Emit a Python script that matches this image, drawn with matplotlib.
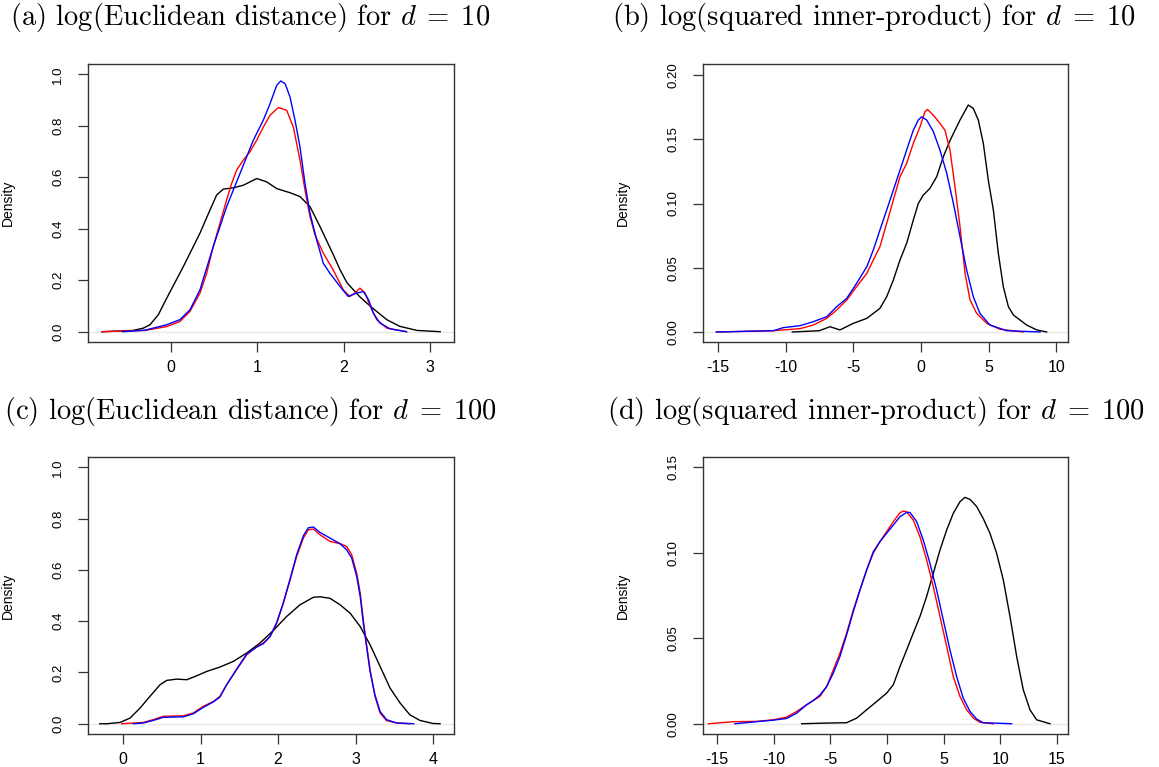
import matplotlib
matplotlib.use("Agg")
import matplotlib.pyplot as plt

# ---- data (density estimates) ----
# (a) log(Euclidean distance), d = 10
a_black_x = [-0.80, -0.437, -0.32, -0.243, -0.147, -0.05, 0.143, 0.336, 0.452, 0.529, 0.606,
             0.722, 0.838, 0.993, 1.109, 1.225, 1.379, 1.495, 1.611, 1.726, 1.88, 1.96, 2.04,
             2.19, 2.27, 2.35, 2.50, 2.65, 2.85, 3.12]
a_black_y = [0.0, 0.005, 0.014, 0.027, 0.066, 0.13, 0.253, 0.383, 0.473, 0.531, 0.554,
             0.559, 0.569, 0.595, 0.582, 0.556, 0.540, 0.525, 0.486, 0.409, 0.30, 0.24, 0.19,
             0.135, 0.111, 0.088, 0.047, 0.021, 0.005, 0.0]
a_red_x = [-0.80, -0.30, -0.05, 0.104, 0.22, 0.336, 0.413, 0.49, 0.645, 0.703, 0.761, 0.838,
           0.915, 0.993, 1.07, 1.148, 1.245, 1.341, 1.418, 1.495, 1.553, 1.611, 1.669, 1.765,
           1.88, 1.996, 2.073, 2.13, 2.19, 2.25, 2.31, 2.384, 2.50, 2.73]
a_red_y = [0.0, 0.005, 0.02, 0.040, 0.079, 0.150, 0.227, 0.331, 0.512, 0.576, 0.628, 0.667,
           0.699, 0.744, 0.795, 0.841, 0.871, 0.860, 0.795, 0.667, 0.550, 0.447, 0.376, 0.305,
           0.240, 0.163, 0.137, 0.150, 0.169, 0.150, 0.098, 0.047, 0.014, 0.0]
a_blue_x = [-0.56, -0.30, -0.05, 0.104, 0.22, 0.336, 0.49, 0.645, 0.80, 0.954, 1.07, 1.148,
            1.225, 1.272, 1.322, 1.379, 1.437, 1.495, 1.553, 1.611, 1.688, 1.765, 1.842,
            1.958, 2.054, 2.15, 2.23, 2.29, 2.345, 2.42, 2.54, 2.73]
a_blue_y = [0.0, 0.006, 0.027, 0.047, 0.085, 0.163, 0.331, 0.486, 0.615, 0.744, 0.822, 0.886,
            0.957, 0.974, 0.964, 0.912, 0.822, 0.718, 0.576, 0.460, 0.357, 0.266, 0.227,
            0.176, 0.137, 0.150, 0.156, 0.124, 0.072, 0.034, 0.011, 0.0]

# (b) log(squared inner-product), d = 10
b_black_x = [-9.5, -7.5, -6.72, -5.98, -5.0, -4.0, -3.03, -2.53, -2.04, -1.55, -1.06, -0.57,
             -0.20, 0.17, 0.66, 1.16, 1.65, 2.14, 2.88, 3.49, 3.86, 4.23, 4.60, 4.97, 5.34,
             5.71, 6.08, 6.45, 6.82, 7.31, 7.8, 8.54, 9.27]
b_black_y = [0.0, 0.001, 0.0041, 0.0016, 0.0067, 0.0106, 0.0184, 0.0275, 0.0405, 0.056, 0.069, 0.087,
             0.100, 0.1066, 0.1118, 0.1209, 0.1365, 0.149, 0.165, 0.1767, 0.174, 0.165, 0.1468, 0.118, 0.095,
             0.061, 0.035, 0.0197, 0.0132, 0.0093, 0.0054, 0.0016, 0.0]
b_red_x = [-15.1, -10.89, -8.93, -7.95, -6.96, -6.22, -5.48, -4.75, -4.0, -3.52, -3.03, -2.53,
           -2.04, -1.55, -1.06, -0.57, -0.07, 0.29, 0.47, 0.91, 1.4, 1.77, 2.14, 2.51, 2.88,
           3.25, 3.62, 4.11, 4.85, 5.83, 7.56]
b_red_y = [0.0, 0.001, 0.0026, 0.0054, 0.0106, 0.0171, 0.0249, 0.0353, 0.0456, 0.056, 0.0664, 0.0846,
           0.1027, 0.1209, 0.1312, 0.1468, 0.1598, 0.1714, 0.1733, 0.1688, 0.1624, 0.157, 0.1416, 0.113, 0.082,
           0.0456, 0.0249, 0.0145, 0.0067, 0.0021, 0.0]
b_blue_x = [-15.1, -10.89, -10.15, -8.93, -7.95, -6.96, -6.22, -5.48, -4.75, -4.0, -3.52, -3.03,
            -2.53, -2.04, -1.55, -1.06, -0.57, -0.2, 0.05, 0.42, 0.91, 1.4, 1.9, 2.39, 2.88,
            3.37, 3.86, 4.35, 5.09, 6.33, 8.79]
b_blue_y = [0.0, 0.001, 0.0034, 0.0049, 0.008, 0.0119, 0.0197, 0.0262, 0.0379, 0.0508, 0.0638, 0.0794,
            0.095, 0.1105, 0.126, 0.1416, 0.157, 0.165, 0.1675, 0.165, 0.156, 0.1416, 0.1235, 0.1001, 0.0742,
            0.0482, 0.0275, 0.0145, 0.0054, 0.001, 0.0]

# (c) log(Euclidean distance), d = 100
c_black_x = [-0.30, -0.21, -0.039, 0.09, 0.219, 0.348, 0.477, 0.564, 0.693, 0.822, 0.951, 1.08,
             1.25, 1.423, 1.596, 1.768, 1.94, 2.11, 2.284, 2.456, 2.542, 2.67, 2.80, 2.93,
             3.06, 3.187, 3.316, 3.445, 3.574, 3.70, 3.83, 4.0, 4.09]
c_black_y = [0.0, 0.0, 0.005, 0.022, 0.061, 0.107, 0.152, 0.169, 0.174, 0.1716, 0.187, 0.204,
             0.221, 0.243, 0.276, 0.315, 0.364, 0.418, 0.464, 0.493, 0.495, 0.489, 0.464, 0.431,
             0.379, 0.308, 0.224, 0.139, 0.081, 0.035, 0.013, 0.001, 0.0]
c_red_x = [-0.017, 0.262, 0.39, 0.52, 0.65, 0.78, 0.907, 1.036, 1.165, 1.25, 1.337, 1.466,
           1.596, 1.725, 1.81, 1.897, 1.983, 2.069, 2.155, 2.24, 2.327, 2.39, 2.456, 2.54,
           2.67, 2.80, 2.886, 2.95, 3.015, 3.06, 3.1, 3.145, 3.187, 3.25, 3.316, 3.4, 3.53, 3.70]
c_red_y = [0.0, 0.005, 0.016, 0.029, 0.030, 0.031, 0.042, 0.068, 0.087, 0.107, 0.152, 0.211,
           0.269, 0.301, 0.315, 0.34, 0.392, 0.47, 0.561, 0.652, 0.724, 0.756, 0.759, 0.737,
           0.711, 0.702, 0.691, 0.659, 0.587, 0.51, 0.405, 0.301, 0.211, 0.107, 0.042, 0.012, 0.003, 0.0]
c_blue_x = [0.133, 0.262, 0.39, 0.52, 0.65, 0.78, 0.907, 1.036, 1.165, 1.25, 1.337, 1.466,
            1.596, 1.725, 1.81, 1.897, 1.983, 2.069, 2.155, 2.24, 2.327, 2.39, 2.456, 2.54,
            2.67, 2.80, 2.886, 2.95, 3.015, 3.06, 3.1, 3.145, 3.187, 3.25, 3.316, 3.4, 3.53, 3.75]
c_blue_y = [0.0, 0.003, 0.013, 0.025, 0.026, 0.027, 0.039, 0.064, 0.085, 0.104, 0.152, 0.213,
            0.272, 0.299, 0.312, 0.34, 0.395, 0.473, 0.564, 0.659, 0.733, 0.764, 0.767, 0.746,
            0.724, 0.702, 0.678, 0.646, 0.574, 0.496, 0.392, 0.295, 0.204, 0.113, 0.048, 0.016, 0.003, 0.0]

# (d) log(squared inner-product), d = 100
d_black_x = [-7.53, -5.32, -3.56, -2.67, -1.79, -0.91, -0.03, 0.56, 1.15, 1.74, 2.32, 2.91,
             3.5, 4.09, 4.68, 5.27, 5.85, 6.44, 6.88, 7.33, 7.92, 8.5, 9.09, 9.68, 10.27,
             10.86, 11.45, 12.03, 12.62, 13.21, 14.39]
d_black_y = [0.0, 0.0004, 0.0006, 0.0033, 0.0082, 0.013, 0.0179, 0.0228, 0.0335, 0.0432, 0.053, 0.0627,
             0.0744, 0.088, 0.1016, 0.1133, 0.123, 0.1298, 0.1324, 0.1312, 0.127, 0.120, 0.1114, 0.0997, 0.0841,
             0.0627, 0.0393, 0.0199, 0.0082, 0.0023, 0.0]
d_red_x = [-15.77, -13.56, -11.5, -10.03, -8.85, -7.97, -7.09, -6.5, -5.91, -5.32, -4.74, -4.15,
           -3.56, -2.97, -2.38, -1.79, -1.21, -0.62, -0.03, 0.56, 1.15, 1.44, 1.74, 2.32, 2.91,
           3.5, 4.09, 4.68, 5.27, 5.85, 6.44, 7.03, 7.62, 8.21, 9.38]
d_red_y = [0.0, 0.0012, 0.0014, 0.0023, 0.0039, 0.0072, 0.0111, 0.0136, 0.016, 0.0218, 0.0315, 0.0413,
           0.053, 0.0666, 0.0783, 0.09, 0.0997, 0.1065, 0.1123, 0.1182, 0.1234, 0.1244, 0.124, 0.1191, 0.1094,
           0.0958, 0.0802, 0.0627, 0.0452, 0.0276, 0.016, 0.0082, 0.0033, 0.0008, 0.0]
d_blue_x = [-13.42, -11.5, -10.03, -8.85, -7.97, -7.09, -6.5, -5.91, -5.32, -4.74, -4.15, -3.56,
            -2.97, -2.38, -1.79, -1.21, -0.62, -0.03, 0.56, 1.15, 1.74, 2.03, 2.62, 3.2, 3.79,
            4.38, 4.97, 5.56, 6.15, 6.73, 7.33, 7.92, 8.5, 11.0]
d_blue_y = [0.0, 0.0012, 0.0021, 0.0031, 0.0062, 0.0111, 0.0136, 0.0169, 0.0218, 0.0296, 0.0393, 0.052,
            0.0656, 0.0783, 0.09, 0.1006, 0.1065, 0.1114, 0.1162, 0.1211, 0.1236, 0.1236, 0.1182, 0.1075, 0.0939,
            0.0783, 0.0607, 0.0432, 0.0276, 0.015, 0.0072, 0.0027, 0.0006, 0.0]

titles = [r"(a) log(Euclidean distance) for $d\;=\;10$",
          r"(b) log(squared inner-product) for $d\;=\;10$",
          r"(c) log(Euclidean distance) for $d\;=\;100$",
          r"(d) log(squared inner-product) for $d\;=\;100$"]
x_ticks = [[0, 1, 2, 3], [-15, -10, -5, 0, 5, 10], [0, 1, 2, 3, 4], [-15, -10, -5, 0, 5, 10, 15]]
y_ticks = [[0.0, 0.2, 0.4, 0.6, 0.8, 1.0], [0.00, 0.05, 0.10, 0.15, 0.20],
           [0.0, 0.2, 0.4, 0.6, 0.8, 1.0], [0.00, 0.05, 0.10, 0.15]]
y_fmt = ["{:.1f}", "{:.2f}", "{:.1f}", "{:.2f}"]
x_lims = [(-0.962, 3.28), (-16.09, 10.85), (-0.452, 4.27), (-16.24, 15.98)]
y_lims = [(-0.04, 1.04), (-0.0078, 0.2086), (-0.04, 1.04), (-0.006, 0.156)]

curves = [
    [(a_black_x, a_black_y), (a_red_x, a_red_y), (a_blue_x, a_blue_y)],
    [(b_black_x, b_black_y), (b_red_x, b_red_y), (b_blue_x, b_blue_y)],
    [(c_black_x, c_black_y), (c_red_x, c_red_y), (c_blue_x, c_blue_y)],
    [(d_black_x, d_black_y), (d_red_x, d_red_y), (d_blue_x, d_blue_y)],
]
colors = ["black", "#ff0000", "#0000ff"]

plt.rcParams["font.family"] = ["Liberation Sans", "DejaVu Sans"]
plt.rcParams["mathtext.fontset"] = "cm"
plt.rcParams["axes.unicode_minus"] = False

W, H = 1159, 767
fig = plt.figure(figsize=(W / 100, H / 100), dpi=100)

# axes boxes in pixels: left, right, top, bottom
boxes = [(88, 454, 64, 342), (703, 1068, 64, 342), (88, 454, 457, 734), (703, 1068, 457, 734)]
title_pos = [(10, 18), (612, 18), (4, 411), (607, 411)]
edge = "#333333"

for i in range(4):
    l, r, t, b = boxes[i]
    ax = fig.add_axes([l / W, 1 - b / H, (r - l) / W, (b - t) / H])
    ax.axhline(0, color="#e8e8e8", lw=1.0, zorder=1)
    for (xs, ys), col in zip(curves[i], colors):
        ax.plot(xs, ys, color=col, lw=1.0, zorder=2, solid_joinstyle="round")
    ax.set_xlim(*x_lims[i])
    ax.set_ylim(*y_lims[i])
    ax.set_xticks(x_ticks[i])
    ax.set_xticklabels([str(v) for v in x_ticks[i]], fontsize=11.5)
    ax.set_yticks(y_ticks[i])
    ax.set_yticklabels([y_fmt[i].format(v) for v in y_ticks[i]], fontsize=9.5,
                       rotation=90, va="center")
    ax.tick_params(direction="out", length=7, width=0.9, color=edge)
    ax.tick_params(axis="x", pad=6)
    ax.tick_params(axis="y", pad=10)
    for s in ax.spines.values():
        s.set_color(edge)
        s.set_linewidth(1.0)
    ax.set_ylabel("Density", fontsize=10)
    ax.yaxis.set_label_coords(-0.2, 0.5)
    tx, ty = title_pos[i]
    fig.text(tx / W, 1 - ty / H, titles[i], fontsize=20.5, family="cmr10",
             ha="left", va="center")

fig.savefig("out.png", dpi=100)
